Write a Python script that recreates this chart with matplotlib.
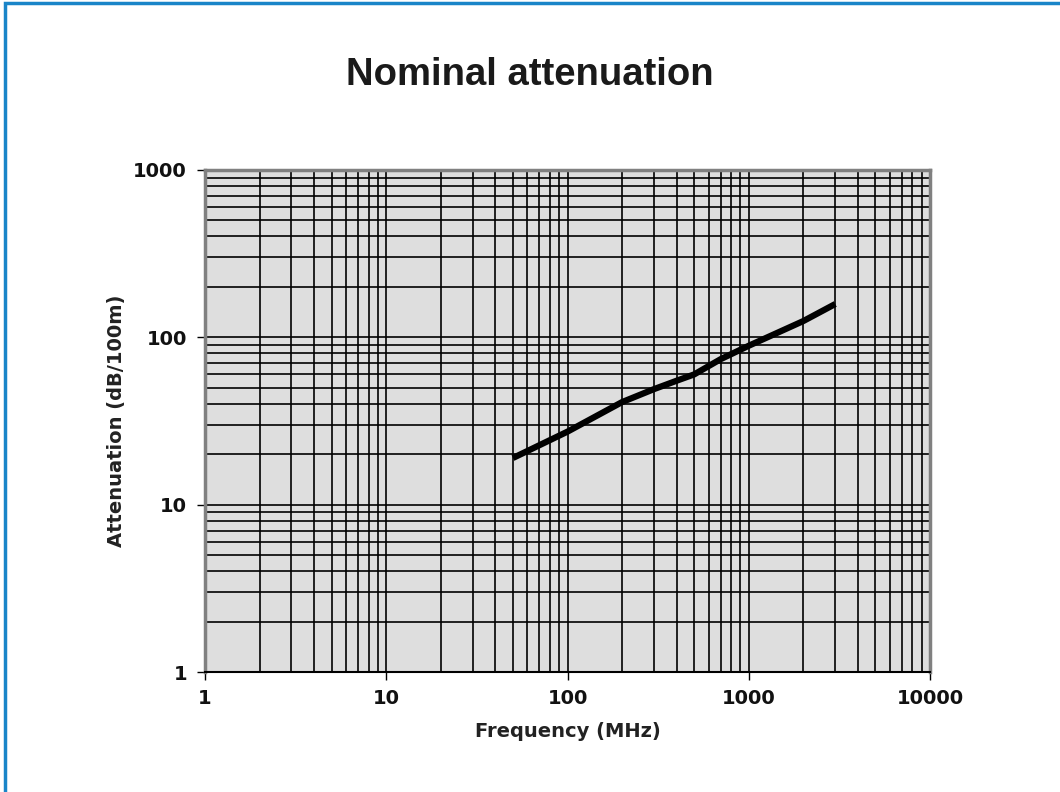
import matplotlib
matplotlib.use("Agg")
import matplotlib.pyplot as plt
from matplotlib import font_manager
from matplotlib.patches import Rectangle
from matplotlib.ticker import LogLocator, NullFormatter

# values
freq = [50, 100, 200, 300, 400, 500, 700, 1000, 2000, 3000]
atten = [19, 27.3, 41, 49, 55, 60, 74, 89, 125, 158]
xticks = [1, 10, 100, 1000, 10000]
yticks = [1, 10, 100, 1000]

title_font = font_manager.FontProperties(family="Liberation Sans", weight="bold", size=27.5)

fig = plt.figure(figsize=(10.6, 7.92), dpi=100)
ax = fig.add_axes([0.1934, 0.1515, 0.684, 0.634])

# blue frame on left / top edge
fig.patches.append(Rectangle((0.0047, -0.1), 1.2, 1.0966, transform=fig.transFigure,
                             fill=False, edgecolor="#1a85c8", linewidth=2.5))

ax.set_facecolor("#dedede")
ax.plot(freq, atten, color="black", linewidth=4.5, solid_capstyle="butt", zorder=3)

ax.set_xscale("log")
ax.set_yscale("log")
ax.set_xlim(1, 10000)
ax.set_ylim(1, 1000)

ax.xaxis.set_minor_locator(LogLocator(base=10, subs=range(2, 10)))
ax.yaxis.set_minor_locator(LogLocator(base=10, subs=range(2, 10)))
ax.xaxis.set_minor_formatter(NullFormatter())
ax.yaxis.set_minor_formatter(NullFormatter())
ax.set_xticks(xticks)
ax.set_yticks(yticks)
ax.set_xticklabels([str(v) for v in xticks])
ax.set_yticklabels([str(v) for v in yticks])
ax.grid(which="both", color="black", linewidth=1.2)
ax.set_axisbelow(True)

ax.tick_params(which="minor", length=0)
ax.tick_params(which="major", direction="out", length=6, width=1, labelsize=14)
ax.tick_params(axis="y", pad=7)
ax.tick_params(axis="x", pad=6)
for lab in ax.get_xticklabels() + ax.get_yticklabels():
    lab.set_fontweight("bold")
    lab.set_color("#111111")

for s in ["top", "right", "left"]:
    ax.spines[s].set_color("#808080")
    ax.spines[s].set_linewidth(2.5)
ax.spines["bottom"].set_color("black")
ax.spines["bottom"].set_linewidth(1.5)

ax.set_xlabel("Frequency (MHz)", fontsize=14, fontweight="bold", labelpad=10, color="#222222")
ax.set_ylabel("Attenuation (dB/100m)", fontsize=14, fontweight="bold", labelpad=5, color="#222222")

fig.text(0.5, 0.905, "Nominal attenuation", ha="center", va="center",
         fontproperties=title_font, color="#1a1a1a")

fig.savefig("out.png", dpi=100)
